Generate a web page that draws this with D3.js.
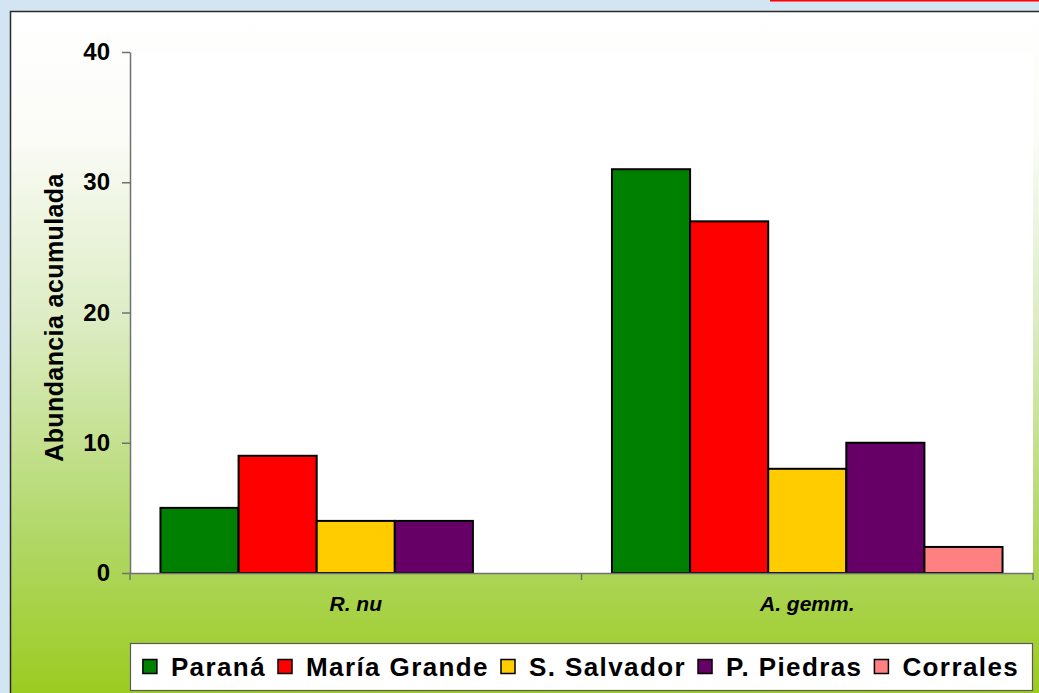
<!DOCTYPE html>
<html>
<head>
<meta charset="utf-8">
<script src="https://cdn.jsdelivr.net/npm/d3@7/dist/d3.min.js"></script>
<style>
    html, body { margin: 0; padding: 0; background: #d3e5f3; }
    svg { display: block; font-family: "Liberation Sans", Arial, sans-serif; }
</style>
</head>
<body>
<svg id="chart"></svg>
<script>
// data
const categories = ["R. nu", "A. gemm."];
const sites = ["Paraná", "María Grande", "S. Salvador", "P. Piedras", "Corrales"];
const siteColors = ["#008000", "#ff0000", "#ffcc00", "#660066", "#ff8080"];
const rNuValues = [5, 9, 4, 4, 0];
const aGemmValues = [31, 27, 8, 10, 2];
const yTicks = [0, 10, 20, 30, 40];

document.addEventListener("DOMContentLoaded", () => {
    const width = 1039, height = 693;
    const plot = { left: 130, right: 1033, top: 52, bottom: 573 };

    const svg = d3.select("#chart")
        .attr("width", width)
        .attr("height", height);

    // background gradient of the chart area
    const defs = svg.append("defs");
    const grad = defs.append("linearGradient")
        .attr("id", "bg")
        .attr("x1", 0).attr("y1", 0).attr("x2", 0).attr("y2", 1);
    grad.append("stop").attr("offset", "0%").attr("stop-color", "#ffffff");
    grad.append("stop").attr("offset", "18%").attr("stop-color", "#fbfcf7");
    grad.append("stop").attr("offset", "45%").attr("stop-color", "#dcecc3");
    grad.append("stop").attr("offset", "75%").attr("stop-color", "#b2d86a");
    grad.append("stop").attr("offset", "100%").attr("stop-color", "#9acb1c");

    svg.append("rect")
        .attr("width", width).attr("height", height)
        .attr("fill", "#d3e5f3");

    svg.append("rect")
        .attr("x", 770).attr("y", -1)
        .attr("width", 280).attr("height", 2.5)
        .attr("fill", "#ff0000");

    svg.append("rect")
        .attr("x", 10.5).attr("y", 11.5)
        .attr("width", width).attr("height", height)
        .attr("fill", "url(#bg)")
        .attr("stroke", "#2b2b2b")
        .attr("stroke-width", 1.5);

    // plot area
    svg.append("rect")
        .attr("x", plot.left).attr("y", plot.top)
        .attr("width", plot.right - plot.left)
        .attr("height", plot.bottom - plot.top)
        .attr("fill", "#ffffff");

    const x0 = d3.scaleBand()
        .domain(categories)
        .range([plot.left, plot.right])
        .padding(0);

    const x1 = d3.scaleBand()
        .domain(sites)
        .range([0, x0.bandwidth()])
        .paddingInner(0)
        .paddingOuter(0.39);

    const y = d3.scaleLinear()
        .domain([0, 40])
        .range([plot.bottom, plot.top]);

    const rows = [rNuValues, aGemmValues];

    const groups = svg.append("g")
        .selectAll("g")
        .data(categories)
        .join("g")
        .attr("transform", d => `translate(${x0(d)},0)`);

    groups.selectAll("rect")
        .data((d, i) => sites.map((s, j) => ({ site: s, value: rows[i][j], color: siteColors[j] }))
            .filter(e => e.value > 0))
        .join("rect")
        .attr("x", d => x1(d.site))
        .attr("y", d => y(d.value))
        .attr("width", x1.bandwidth())
        .attr("height", d => y(0) - y(d.value))
        .attr("fill", d => d.color)
        .attr("stroke", "#000")
        .attr("stroke-width", 2);

    // y axis
    const yAxis = svg.append("g")
        .attr("transform", `translate(${plot.left},0)`)
        .call(d3.axisLeft(y).tickValues(yTicks).tickSize(8).tickPadding(12).tickSizeOuter(0));
    yAxis.select(".domain").attr("stroke", "#707070").attr("stroke-width", 1.5);
    yAxis.selectAll(".tick line").attr("stroke", "#707070").attr("stroke-width", 1.5);
    yAxis.selectAll(".tick text")
        .attr("fill", "#000")
        .style("font-size", "24px")
        .style("font-weight", "bold");

    // x axis
    const xAxis = svg.append("g")
        .attr("transform", `translate(0,${plot.bottom})`)
        .call(d3.axisBottom(x0).tickSize(0).tickPadding(23));
    xAxis.select(".domain").attr("stroke", "#707070").attr("stroke-width", 1.5);
    xAxis.selectAll(".tick text")
        .attr("fill", "#000")
        .style("font-size", "21px")
        .style("font-weight", "bold")
        .style("font-style", "italic");

    // category separator ticks
    const sepTicks = [plot.left, x0(categories[1]), plot.right];
    svg.append("g")
        .selectAll("line")
        .data(sepTicks)
        .join("line")
        .attr("x1", d => d).attr("x2", d => d)
        .attr("y1", plot.bottom).attr("y2", plot.bottom + 7)
        .attr("stroke", "#707070")
        .attr("stroke-width", 1.5);

    // y title
    svg.append("text")
        .attr("transform", `translate(63,${(plot.top + plot.bottom) / 2 + 5}) rotate(-90)`)
        .attr("text-anchor", "middle")
        .style("font-size", "25px")
        .style("font-weight", "bold")
        .style("letter-spacing", "0.4px")
        .text("Abundancia acumulada");

    // legend
    const legend = svg.append("g");
    legend.append("rect")
        .attr("x", 130.5).attr("y", 643.5)
        .attr("width", 902).attr("height", 47)
        .attr("fill", "#fff")
        .attr("stroke", "#5a5a5a")
        .attr("stroke-width", 1.2);

    const items = legend.selectAll("g")
        .data(sites)
        .join("g");

    items.append("rect")
        .attr("width", 14).attr("height", 14)
        .attr("y", 659.5)
        .attr("fill", (d, i) => siteColors[i])
        .attr("stroke", "#000")
        .attr("stroke-width", 1.5);

    const labels = items.append("text")
        .attr("x", 28)
        .attr("y", 676)
        .style("font-size", "26px")
        .style("font-weight", "bold")
        .style("letter-spacing", "1.4px")
        .text(d => d);

    let cursor = 0;
    const offsets = [];
    labels.each(function () {
        offsets.push(cursor);
        cursor += 28 + this.getComputedTextLength() + 12;
    });
    const total = cursor - 12;
    const start = 130 + (902 - total) / 2;
    items.attr("transform", (d, i) => `translate(${start + offsets[i]},0)`);
});
</script>
</body>
</html>
